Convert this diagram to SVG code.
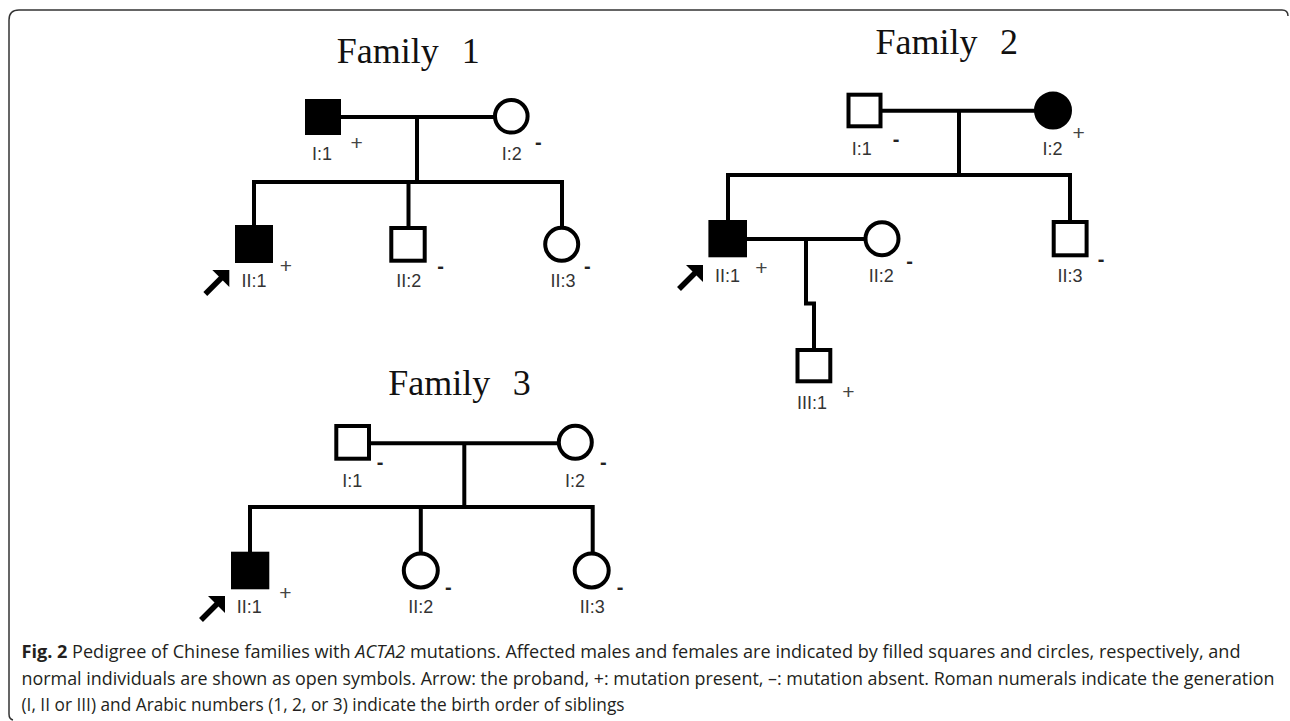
<svg xmlns="http://www.w3.org/2000/svg" xmlns:xlink="http://www.w3.org/1999/xlink" width="1290" height="721" viewBox="0 0 1290 721">
<style>
.title{font-family:"Liberation Serif","Times New Roman",serif;font-size:36px;fill:#111}
.lbl{font-family:"Liberation Sans",Arial,sans-serif;font-size:18px;fill:#333;text-anchor:middle}
.plus{font-family:"Liberation Sans",Arial,sans-serif;font-size:21px;fill:#444;text-anchor:middle}
.minus{font-family:"Liberation Sans",Arial,sans-serif;font-size:20px;font-weight:bold;fill:#222;text-anchor:middle}
.open{fill:#fff;stroke:#000;stroke-width:4}
.aff{fill:#000;stroke:#000;stroke-width:4}
.ln{fill:none;stroke:#000;stroke-width:4;stroke-linejoin:miter;stroke-linecap:butt}
.cap{font-family:"Open Sans","Liberation Sans",sans-serif;font-size:18px;fill:#231f20}
.frame{fill:none;stroke:#333;stroke-width:1.5}
</style>
<defs>
<g id="proband">
<line x1="-24" y1="24" x2="-6" y2="6" stroke="#000" stroke-width="5.5"/>
<polygon points="0,0 -17,0 0,17" fill="#000"/>
</g>
</defs>
<path class="frame" d="M13,720 Q9,719 9,714 L9,20 Q9,10 19,10 L1282,10 Q1288,10 1288,16"/>

<g id="connectors">
<!-- Family 1 -->
<line class="ln" x1="341" y1="117" x2="494" y2="117"/>
<line class="ln" x1="417" y1="117" x2="417" y2="182"/>
<path class="ln" d="M254,226 V182 H562 V227"/>
<line class="ln" x1="408.5" y1="182" x2="408.5" y2="227"/>
<!-- Family 2 -->
<line class="ln" x1="882" y1="110.7" x2="1035" y2="110.7"/>
<line class="ln" x1="959" y1="110.7" x2="959" y2="175"/>
<path class="ln" d="M728,221 V175 H1070 V221"/>
<line class="ln" x1="747" y1="239" x2="865" y2="239"/>
<path class="ln" d="M806,239 V303.5 H814 V349"/>
<!-- Family 3 -->
<line class="ln" x1="371" y1="443.3" x2="558" y2="443.3"/>
<line class="ln" x1="464.3" y1="443.3" x2="464.3" y2="507"/>
<path class="ln" d="M250,552 V507 H592.7 V552"/>
<line class="ln" x1="420.8" y1="507" x2="420.8" y2="552"/>
</g>

<g id="family1">
<text class="title" x="336.7" y="62.7">Family</text>
<text class="title" x="461.7" y="62.7">1</text>
<g id="f1-I1"><rect class="aff" x="307" y="101" width="32" height="32"/><text class="lbl" x="322" y="160">I:1</text><text class="plus" x="356.7" y="150.4">+</text></g>
<g id="f1-I2"><circle class="open" cx="511.3" cy="116.3" r="16.3"/><text class="lbl" x="511.7" y="160">I:2</text><text class="minus" x="538.3" y="148.8">-</text></g>
<g id="f1-II1"><rect class="aff" x="237" y="227" width="34" height="34"/><text class="lbl" x="254" y="287">II:1</text><text class="plus" x="286" y="273">+</text><use xlink:href="#proband" x="229.3" y="270"/></g>
<g id="f1-II2"><rect class="open" x="391.3" y="228" width="33.4" height="32.7"/><text class="lbl" x="408.7" y="287">II:2</text><text class="minus" x="440.7" y="272.8">-</text></g>
<g id="f1-II3"><circle class="open" cx="561.7" cy="244.3" r="16.5"/><text class="lbl" x="563" y="287">II:3</text><text class="minus" x="587.3" y="272.8">-</text></g>
</g>

<g id="family2">
<text class="title" x="875.5" y="54.3">Family</text>
<text class="title" x="1000" y="54.3">2</text>
<g id="f2-I1"><rect class="open" x="848.5" y="94.7" width="32" height="31.6"/><text class="lbl" x="861.8" y="155">I:1</text><text class="minus" x="896.2" y="145.5">-</text></g>
<g id="f2-I2"><circle class="aff" cx="1053" cy="110.5" r="17"/><text class="lbl" x="1052.5" y="155">I:2</text><text class="plus" x="1078.6" y="140">+</text></g>
<g id="f2-II1"><rect class="aff" x="710.4" y="222" width="34.6" height="33.3"/><text class="lbl" x="727.5" y="281.7">II:1</text><text class="plus" x="761.5" y="275.3">+</text><use xlink:href="#proband" x="703" y="265"/></g>
<g id="f2-II2"><circle class="open" cx="882" cy="238.7" r="16.5"/><text class="lbl" x="881.3" y="281.7">II:2</text><text class="minus" x="909.5" y="268.2">-</text></g>
<g id="f2-II3"><rect class="open" x="1053.7" y="222" width="32.9" height="33.3"/><text class="lbl" x="1070" y="281.7">II:3</text><text class="minus" x="1101" y="265.5">-</text></g>
<g id="f2-III1"><rect class="open" x="797.5" y="350" width="32.8" height="31.3"/><text class="lbl" x="812" y="409">III:1</text><text class="plus" x="848.3" y="398.7">+</text></g>
</g>

<g id="family3">
<text class="title" x="388.3" y="395">Family</text>
<text class="title" x="512.7" y="395">3</text>
<g id="f3-I1"><rect class="open" x="336.3" y="426" width="32.7" height="32.7"/><text class="lbl" x="352.3" y="486.7">I:1</text><text class="minus" x="380" y="468.8">-</text></g>
<g id="f3-I2"><circle class="open" cx="575.3" cy="442.3" r="16.5"/><text class="lbl" x="575" y="486.7">I:2</text><text class="minus" x="603.3" y="468.8">-</text></g>
<g id="f3-II1"><rect class="aff" x="233" y="553.7" width="34.3" height="33.6"/><text class="lbl" x="249.3" y="613.3">II:1</text><text class="plus" x="285.3" y="600.3">+</text><use xlink:href="#proband" x="225" y="596"/></g>
<g id="f3-II2"><circle class="open" cx="420.8" cy="570.5" r="17"/><text class="lbl" x="420.7" y="613.3">II:2</text><text class="minus" x="448.3" y="593.8">-</text></g>
<g id="f3-II3"><circle class="open" cx="591.7" cy="570.5" r="17"/><text class="lbl" x="592.3" y="613.3">II:3</text><text class="minus" x="620" y="593.8">-</text></g>
</g>

<g id="caption">
<text class="cap" x="21.5" y="658" textLength="1219" lengthAdjust="spacingAndGlyphs"><tspan font-weight="bold">Fig. 2</tspan> Pedigree of Chinese families with <tspan font-style="italic">ACTA2</tspan> mutations. Affected males and females are indicated by filled squares and circles, respectively, and</text>
<text class="cap" x="21.5" y="684.5" textLength="1253" lengthAdjust="spacingAndGlyphs">normal individuals are shown as open symbols. Arrow: the proband, +: mutation present, –: mutation absent. Roman numerals indicate the generation</text>
<text class="cap" x="21.5" y="711" textLength="603" lengthAdjust="spacingAndGlyphs">(I, II or III) and Arabic numbers (1, 2, or 3) indicate the birth order of siblings</text>
</g>
</svg>
